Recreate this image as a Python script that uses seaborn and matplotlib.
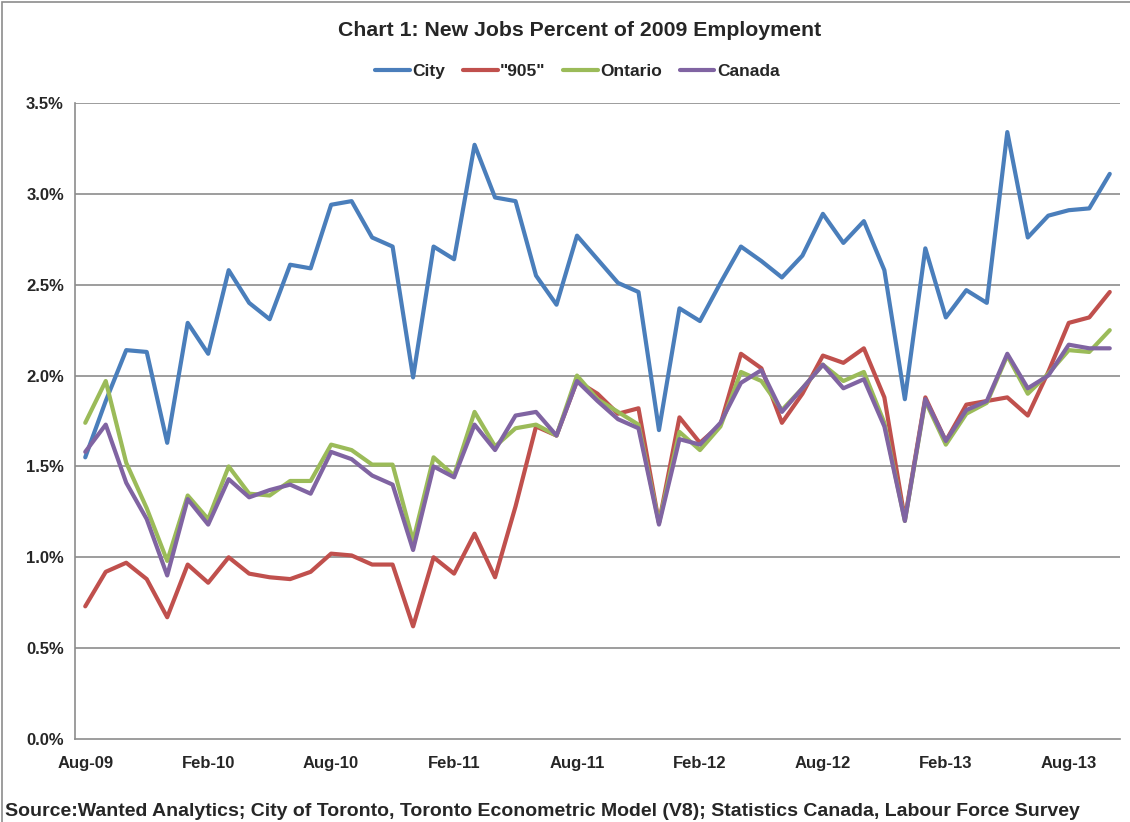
import numpy as np
import pandas as pd
import matplotlib
matplotlib.use("Agg")
import matplotlib.pyplot as plt
import matplotlib.patches as patches
from matplotlib.ticker import FixedLocator, FuncFormatter
import seaborn as sns

# Monthly data, Aug-09 .. Oct-13 (percent of 2009 employment)
months = pd.date_range("2009-08-01", "2013-10-01", freq="MS").strftime("%b-%y").tolist()

city = [1.55, 1.86, 2.14, 2.13, 1.63, 2.29, 2.12, 2.58, 2.40, 2.31,
        2.61, 2.59, 2.94, 2.96, 2.76, 2.71, 1.99, 2.71, 2.64, 3.27,
        2.98, 2.96, 2.55, 2.39, 2.77, 2.64, 2.51, 2.46, 1.70, 2.37,
        2.30, 2.51, 2.71, 2.63, 2.54, 2.66, 2.89, 2.73, 2.85, 2.58,
        1.87, 2.70, 2.32, 2.47, 2.40, 3.34, 2.76, 2.88, 2.91, 2.92, 3.11]
gta_905 = [0.73, 0.92, 0.97, 0.88, 0.67, 0.96, 0.86, 1.00, 0.91, 0.89,
           0.88, 0.92, 1.02, 1.01, 0.96, 0.96, 0.62, 1.00, 0.91, 1.13,
           0.89, 1.28, 1.72, 1.67, 1.97, 1.90, 1.79, 1.82, 1.19, 1.77,
           1.63, 1.73, 2.12, 2.04, 1.74, 1.90, 2.11, 2.07, 2.15, 1.88,
           1.21, 1.88, 1.64, 1.84, 1.86, 1.88, 1.78, 2.02, 2.29, 2.32, 2.46]
ontario = [1.74, 1.97, 1.52, 1.27, 0.98, 1.34, 1.21, 1.50, 1.35, 1.34,
           1.42, 1.42, 1.62, 1.59, 1.51, 1.51, 1.09, 1.55, 1.45, 1.80,
           1.61, 1.71, 1.73, 1.67, 2.00, 1.87, 1.80, 1.73, 1.19, 1.69,
           1.59, 1.72, 2.02, 1.97, 1.81, 1.93, 2.06, 1.97, 2.02, 1.74,
           1.20, 1.86, 1.62, 1.79, 1.85, 2.11, 1.90, 2.01, 2.14, 2.13, 2.25]
canada = [1.58, 1.73, 1.41, 1.21, 0.90, 1.32, 1.18, 1.43, 1.33, 1.37,
          1.40, 1.35, 1.58, 1.54, 1.45, 1.40, 1.04, 1.50, 1.44, 1.73,
          1.59, 1.78, 1.80, 1.67, 1.97, 1.86, 1.76, 1.71, 1.18, 1.65,
          1.62, 1.74, 1.96, 2.03, 1.80, 1.93, 2.06, 1.93, 1.98, 1.72,
          1.20, 1.87, 1.64, 1.81, 1.86, 2.12, 1.93, 2.00, 2.17, 2.15, 2.15]

series_names = ["City", '"905"', "Ontario", "Canada"]
colors = ["#4A7EBB", "#C0504D", "#9BBB59", "#8064A2"]

df = pd.DataFrame({"month": months, "City": city, '"905"': gta_905,
                   "Ontario": ontario, "Canada": canada})
df["idx"] = np.arange(len(df))
long_df = df.melt(id_vars=["month", "idx"], value_vars=series_names,
                  var_name="series", value_name="value")

sns.set_style("white")
plt.rcParams["font.family"] = ["Liberation Sans", "DejaVu Sans"]
plt.rcParams["font.weight"] = "bold"

fig = plt.figure(figsize=(11.3, 8.22), dpi=100)
ax = fig.add_axes([75 / 1130, 1 - 739 / 822, (1120 - 75) / 1130, (739 - 103) / 822])

sns.lineplot(data=long_df, x="idx", y="value", hue="series", hue_order=series_names,
             palette=colors, linewidth=3.0, ax=ax, legend=False)

ax.set_xlim(-0.5, len(months) - 0.5)
ax.set_ylim(0, 3.5)
ax.set_xlabel("")
ax.set_ylabel("")

grid_c = "#8C8C8C"
yt = np.arange(0, 3.51, 0.5)
ax.set_yticks(yt)
ax.yaxis.set_major_formatter(FuncFormatter(lambda v, p: f"{v:.1f}%"))
for v in yt[1:]:
    ax.axhline(v, color=grid_c, lw=1.2, zorder=0)

label_pos = list(range(0, len(months), 6))
ax.xaxis.set_major_locator(FixedLocator(label_pos))
ax.set_xticklabels([months[i] for i in label_pos])
ax.xaxis.set_minor_locator(FixedLocator([p - 0.5 for p in label_pos]))
ax.tick_params(axis="x", which="major", length=0, pad=12, labelsize=12)
ax.tick_params(axis="x", which="minor", length=5, width=1.2, color=grid_c, direction="out")
ax.tick_params(axis="y", which="major", length=5, width=1.2, color=grid_c,
               direction="out", labelsize=12, pad=3)

for s in ["top", "right"]:
    ax.spines[s].set_visible(False)
for s in ["left", "bottom"]:
    ax.spines[s].set_color(grid_c)
    ax.spines[s].set_linewidth(1.2)

for lbl in ax.get_xticklabels() + ax.get_yticklabels():
    lbl.set_fontweight("bold")

fig.text(0.513, 1 - 31 / 822, "Chart 1: New Jobs Percent of 2009 Employment",
         ha="center", va="center", fontsize=15.3, fontweight="bold")

handles = [plt.Line2D([], [], color=c, lw=3.0) for c in colors]
leg = fig.legend(handles, series_names, loc="center", ncol=4,
                 bbox_to_anchor=(0.511, 1 - 71 / 822), frameon=False,
                 handlelength=2.0, handletextpad=0.15, columnspacing=1.0,
                 prop={"weight": "bold", "size": 12.5})

fig.text(5 / 1130, 1 - 811 / 822,
         "Source:Wanted Analytics; City of Toronto, Toronto Econometric Model (V8); "
         "Statistics Canada, Labour Force Survey",
         ha="left", va="center", fontsize=14, fontweight="bold")

fig.patches.append(patches.Rectangle((2 / 1130, -0.1), 1.2, 1.1 - 2 / 822,
                                     transform=fig.transFigure, fill=False,
                                     edgecolor="#8C8C8C", lw=1.2))

fig.savefig("out.png", dpi=100)
